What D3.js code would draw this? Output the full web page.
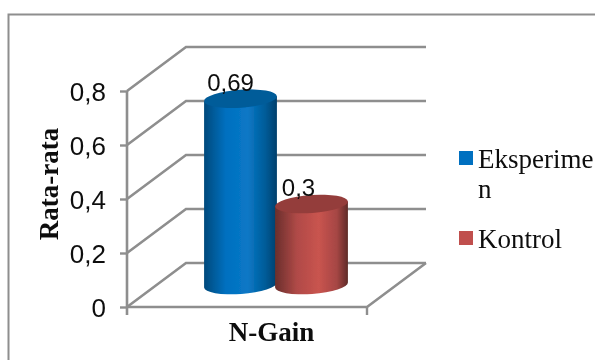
<!DOCTYPE html>
<html><head><meta charset="utf-8">
<script src="https://cdn.jsdelivr.net/npm/d3@7"></script>
<style>html,body{margin:0;padding:0;background:#fff;overflow:hidden}svg{display:block}</style>
</head><body><div id="c"></div>
<script>
const categories = ["Eksperimen", "Kontrol"];
const values = [0.69, 0.3];
const valueLabels = ["0,69", "0,3"];
const legendLines = [["Eksperime", "n"], ["Kontrol"]];
const yTicks = [0, 0.2, 0.4, 0.6, 0.8];
const groupLabel = "N-Gain";
const yTitle = "Rata-rata";
const bodyColors = [["#004a7c","#0070c0","#0a78c6","#005a96","#003f6c"],["#6a2e2c","#b04a47","#c9544f","#a54644","#5e2a28"]];
const topColors = ["#005b99", "#943c3a"];
const swatchColors = ["#0070c0", "#c0504d"];

const W = 595, H = 360, grid = "#8e8e8e";
const svg = d3.select("#c").append("svg").attr("width", W).attr("height", H);
const defs = svg.append("defs");
const blur = defs.append("filter").attr("id","soft");
blur.append("feGaussianBlur").attr("stdDeviation",0.45);

// frame
svg.append("path").attr("d","M8.5,360V14.5H595").attr("fill","none").attr("stroke",grid).attr("stroke-width",2);

// 3D box geometry
const x0 = 127, x1 = 367, dx = 59, dy = -44;
const y = d3.scaleLinear().domain([0,0.8]).range([307,91]);
const root = svg.append("g").attr("filter","url(#soft)");
const walls = root.append("g").attr("fill","none").attr("stroke",grid).attr("stroke-width",2.6);
yTicks.forEach(t => {
  walls.append("path").attr("d",`M${x0},${y(t)}L${x0+dx},${y(t)+dy}H${x1+dx}`);
});
walls.append("path").attr("d",`M${x0},${y(0)}H${x1}L${x1+dx},${y(0)+dy}`);

const axis = d3.axisLeft(y).tickValues(yTicks).tickSize(7).tickPadding(14)
  .tickFormat(d => d === 0 ? "0" : String(d).replace(".",","));
const ag = root.append("g").attr("transform",`translate(${x0},0)`).call(axis);
ag.select(".domain").attr("stroke",grid).attr("stroke-width",2.6).attr("d",`M0,${y(0.8)}V${y(0)+8}`);
ag.selectAll(".tick line").attr("stroke",grid).attr("stroke-width",2.4);
ag.selectAll(".tick text").attr("fill","#111").attr("font-family","'Liberation Sans',sans-serif").attr("font-size",26).attr("dy","0.36em");
root.append("line").attr("x1",x1).attr("x2",x1).attr("y1",y(0)).attr("y2",y(0)+8).attr("stroke",grid).attr("stroke-width",2.4);

// cylinders
const xb = d3.scaleBand().domain(categories).range([204,348]).padding(0);
const rx = 36.5, ry = 9, baseY = 285, tilt = -4, unit = y(0)-y(1);
const tx = Math.cos(tilt*Math.PI/180)*rx, ty = Math.sin(tilt*Math.PI/180)*rx;
const labelShift = [-10, -13];
categories.forEach((c,i) => {
  const id = "g"+i;
  const g = defs.append("linearGradient").attr("id",id);
  bodyColors[i].forEach((col,k) => g.append("stop").attr("offset",[0,0.3,0.6,0.85,1][k]).attr("stop-color",col));
  const cx = xb(c)+xb.bandwidth()/2 + (i ? -0.5 : 0.5);
  const topY = baseY - values[i]*unit;
  root.append("path")
    .attr("d",`M${cx-tx},${topY-ty}L${cx-tx},${baseY-ty}A${rx},${ry} ${tilt} 0 0 ${cx+tx},${baseY+ty}L${cx+tx},${topY+ty}Z`)
    .attr("fill",`url(#${id})`);
  root.append("ellipse").attr("cx",cx).attr("cy",topY).attr("rx",rx).attr("ry",ry)
    .attr("transform",`rotate(${tilt} ${cx} ${topY})`).attr("fill",topColors[i]);
  root.append("text").attr("x",cx+labelShift[i]).attr("y",topY-8).attr("text-anchor","middle")
    .attr("font-family","'Liberation Sans',sans-serif").attr("font-size",24).attr("fill","#111").text(valueLabels[i]);
});

// titles
const serif = "'Liberation Serif',serif";
root.append("text").attr("x",271.5).attr("y",341).attr("text-anchor","middle").attr("font-family",serif)
  .attr("font-weight","bold").attr("font-size",27).attr("fill","#111").text(groupLabel);
root.append("text").attr("transform","translate(58,184) rotate(-90)").attr("text-anchor","middle").attr("font-family",serif)
  .attr("font-weight","bold").attr("font-size",27).attr("fill","#111").text(yTitle);

// legend
const legY = [168, 248];
categories.forEach((c,i) => {
  root.append("rect").attr("x",459).attr("y",legY[i]-17).attr("width",14).attr("height",14).attr("fill",swatchColors[i]);
  const t = root.append("text").attr("font-family",serif).attr("font-size",27).attr("fill","#111");
  legendLines[i].forEach((ln,k) => t.append("tspan").attr("x",478).attr("y",legY[i]+k*30).text(ln));
});
</script></body></html>
